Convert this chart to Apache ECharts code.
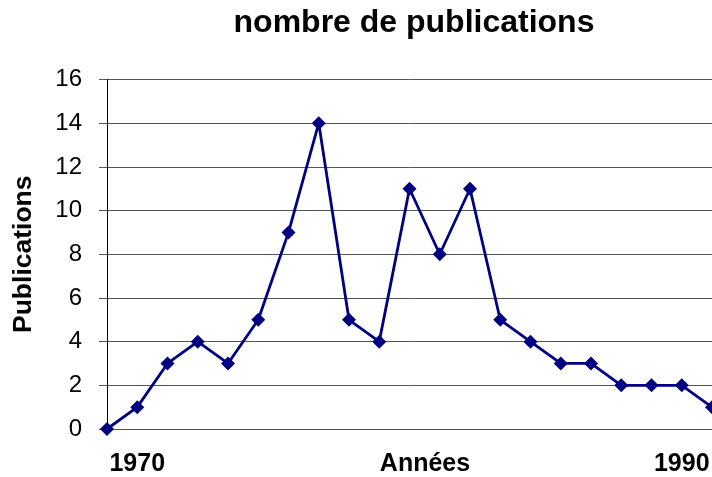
<!DOCTYPE html>
<html>
<head>
<meta charset="utf-8">
<script src="https://cdn.jsdelivr.net/npm/echarts@6/dist/echarts.min.js"></script>
<style>
  html, body { margin: 0; padding: 0; background: #fff; }
  #chart { width: 712px; height: 477px; }
</style>
</head>
<body>
<div id="chart"></div>
<script>
// one point per year, 1970 .. 1990
const years = ['1970', '1971', '1972', '1973', '1974', '1975', '1976', '1977', '1978', '1979', '1980',
  '1981', '1982', '1983', '1984', '1985', '1986', '1987', '1988', '1989', '1990']
// labels as printed under the axis
const tickLabels = ['', '1970', '', '', '', '', '', '', '', '', '',
  '', '', '', '', '', '', '', '', '1990', '']
const publications = [0, 1, 3, 4, 3, 5, 9, 14, 5, 4, 11, 8, 11, 5, 4, 3, 3, 2, 2, 2, 1]
const yTicks = [0, 2, 4, 6, 8, 10, 12, 14, 16]

const font = '"Liberation Sans", Arial, sans-serif'
const navy = '#000080'

const chart = echarts.init(document.getElementById('chart'), null, { renderer: 'canvas' })
chart.setOption({
  animation: false,
  backgroundColor: '#fff',
  title: {
    text: 'nombre de publications',
    left: 409,
    top: 2,
    textAlign: 'center',
    textStyle: {
      fontFamily: font,
      fontWeight: 'bold',
      fontSize: 32,
      color: '#000'
    }
  },
  grid: {
    left: 107,
    right: 0,
    top: 79.5,
    bottom: 48,
    containLabel: false,
    outerBoundsMode: 'none'
  },
  xAxis: {
    type: 'category',
    data: tickLabels,
    boundaryGap: false,
    name: 'Années',
    nameLocation: 'middle',
    nameGap: 23,
    nameMoveOverlap: false,
    nameTextStyle: {
      fontFamily: font,
      fontWeight: 'bold',
      fontSize: 25,
      color: '#000',
      padding: [0, 0, 0, 31]
    },
    axisLine: { lineStyle: { color: '#555', width: 1 } },
    axisTick: { show: false },
    axisLabel: {
      interval: 0,
      margin: 23,
      fontFamily: font,
      fontWeight: 'bold',
      fontSize: 25,
      color: '#000'
    },
    splitLine: { show: false }
  },
  yAxis: {
    type: 'value',
    min: yTicks[0],
    max: yTicks[yTicks.length - 1],
    interval: 2,
    name: 'Publications',
    nameLocation: 'middle',
    nameGap: 70,
    nameMoveOverlap: false,
    nameTextStyle: {
      fontFamily: font,
      fontWeight: 'bold',
      fontSize: 26.5,
      color: '#000'
    },
    axisLine: { show: true, lineStyle: { color: '#000', width: 1 } },
    axisTick: { show: true, length: 8, lineStyle: { color: '#555' } },
    axisLabel: {
      margin: 25,
      fontFamily: font,
      fontSize: 24,
      color: '#000'
    },
    splitLine: { lineStyle: { color: '#555', width: 1 } }
  },
  series: [{
    name: 'publications',
    type: 'line',
    data: publications,
    color: navy,
    lineStyle: { color: navy, width: 2.8 },
    symbol: 'diamond',
    symbolSize: 14,
    itemStyle: { color: navy },
    clip: false
  }]
})
console.log(years.length, publications.length)
</script>
</body>
</html>
